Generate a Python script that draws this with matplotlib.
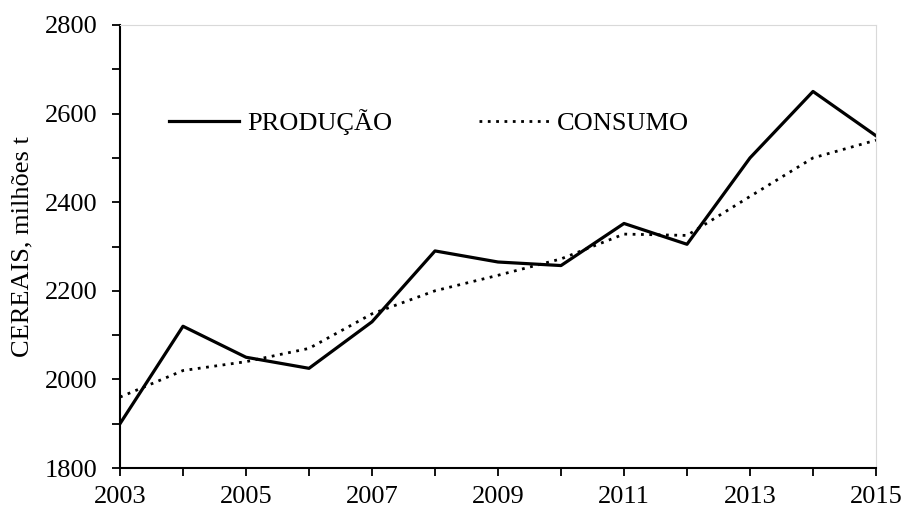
import numpy as np
import matplotlib.pyplot as plt
from matplotlib.ticker import MultipleLocator

plt.rcParams['font.family'] = ['Liberation Serif', 'DejaVu Serif']

anos = [2003, 2004, 2005, 2006, 2007, 2008, 2009, 2010, 2011, 2012, 2013, 2014, 2015]
producao = [1900, 2120, 2050, 2025, 2130, 2290, 2265, 2257, 2352, 2305, 2500, 2650, 2550]
consumo = [1960, 2020, 2040, 2070, 2148, 2200, 2235, 2272, 2328, 2325, 2413, 2500, 2540]
xticks = [2003, 2005, 2007, 2009, 2011, 2013, 2015]
yticks = [1800, 2000, 2200, 2400, 2600, 2800]

fig = plt.figure(figsize=(9.03, 5.11), dpi=100)
ax = fig.add_axes([120 / 903, 1 - 468 / 511, 756 / 903, 443 / 511])

ax.plot(anos, producao, color='black', lw=2.3, label='PRODUÇÃO')
ax.plot(anos, consumo, color='black', lw=2.0, linestyle=(0, (1, 2)), label='CONSUMO')

ax.set_xlim(2003, 2015)
ax.set_ylim(1800, 2800)
ax.set_xticks(xticks)
ax.set_yticks(yticks)
ax.xaxis.set_minor_locator(MultipleLocator(1))
ax.yaxis.set_minor_locator(MultipleLocator(100))
ax.tick_params(axis='both', which='both', direction='out', length=6, width=1.3, labelsize=19)
ax.tick_params(axis='x', pad=7)
ax.tick_params(axis='y', pad=10)
ax.set_ylabel('CEREAIS, milhões t', fontsize=19, labelpad=8)

for s in ['left', 'bottom']:
    ax.spines[s].set_linewidth(1.5)
for s in ['top', 'right']:
    ax.spines[s].set_color('#d9d9d9')
    ax.spines[s].set_linewidth(0.8)

ax.legend(loc='center left', bbox_to_anchor=(0.065, 0.781), ncol=2, frameon=False,
          fontsize=19, handlelength=2.65, handletextpad=0.3, columnspacing=3.3,
          borderaxespad=0, borderpad=0)

plt.savefig('out.png', dpi=100)
